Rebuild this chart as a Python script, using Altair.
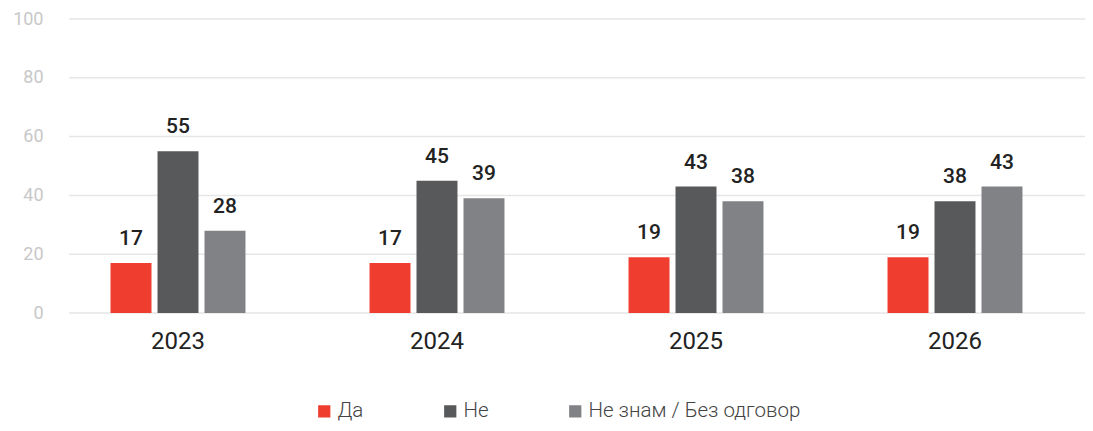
import altair as alt
import pandas as pd

years = ["2023", "2024", "2025", "2026"]
series = ["Да", "Не", "Не знам / Без одговор"]
da = [17, 17, 19, 19]
ne = [55, 45, 43, 38]
neznam = [28, 39, 38, 43]
colors = ["#EF3E2F", "#58595B", "#818285"]
yticks = [0, 20, 40, 60, 80, 100]

rows = []
for i, yr in enumerate(years):
    for s, vals in zip(series, [da, ne, neznam]):
        rows.append({"year": yr, "series": s, "value": vals[i]})
df = pd.DataFrame(rows)
grid_df = pd.DataFrame({"tick": yticks})

W, H = 1016, 294

yscale = alt.Scale(domain=[0, 100], nice=False)
yaxis = alt.Axis(title=None, values=yticks, labelFontSize=18,
                 labelColor="#C8C8C8", labelFont="Roboto", labelPadding=26,
                 ticks=False, domain=False, grid=False)

x = alt.X("year:N", sort=years,
          scale=alt.Scale(range=[-20.5, 1015.5], paddingInner=0.479, paddingOuter=0.2395),
          axis=alt.Axis(title=None, labelAngle=0, labelFontSize=24, labelColor="#222222",
                        labelFont="Roboto", labelPadding=16, ticks=False, domain=False, grid=False))
xo = alt.XOffset("series:N", sort=series,
                 scale=alt.Scale(paddingInner=0.128, paddingOuter=0))
y = alt.Y("value:Q", scale=yscale, axis=yaxis)

grid = alt.Chart(grid_df).mark_rule(color="#E6E6E6", strokeWidth=1.5).encode(
    y=alt.Y("tick:Q", scale=yscale, axis=yaxis),
    x=alt.value(0), x2=alt.value(W),
)

bars = alt.Chart(df).mark_bar().encode(
    x=x, xOffset=xo, y=y,
    color=alt.Color("series:N", sort=series,
                    scale=alt.Scale(domain=series, range=colors),
                    legend=alt.Legend(title=None, orient="none", direction="horizontal",
                                      legendX=245, legendY=382, symbolType="square",
                                      symbolSize=150, symbolStrokeWidth=0,
                                      labelFontSize=20.5, labelFontWeight=300,
                                      labelColor="#444444",
                                      labelFont="Roboto", columnPadding=76,
                                      labelOffset=3, labelLimit=400)),
)

labels = alt.Chart(df).mark_text(baseline="bottom", dy=-14, fontSize=21,
                                 fontWeight=500, font="Roboto", color="#222222").encode(
    x=x, xOffset=xo, y=y, text="value:Q")

chart = alt.layer(grid, bars, labels).properties(
    width=W, height=H,
    autosize=alt.AutoSizeParams(type="none"),
    padding={"left": 61, "top": 11, "right": 0, "bottom": 110},
).configure_view(stroke=None)

chart.save("out.html", embed_options={"renderer": "svg", "actions": False})
